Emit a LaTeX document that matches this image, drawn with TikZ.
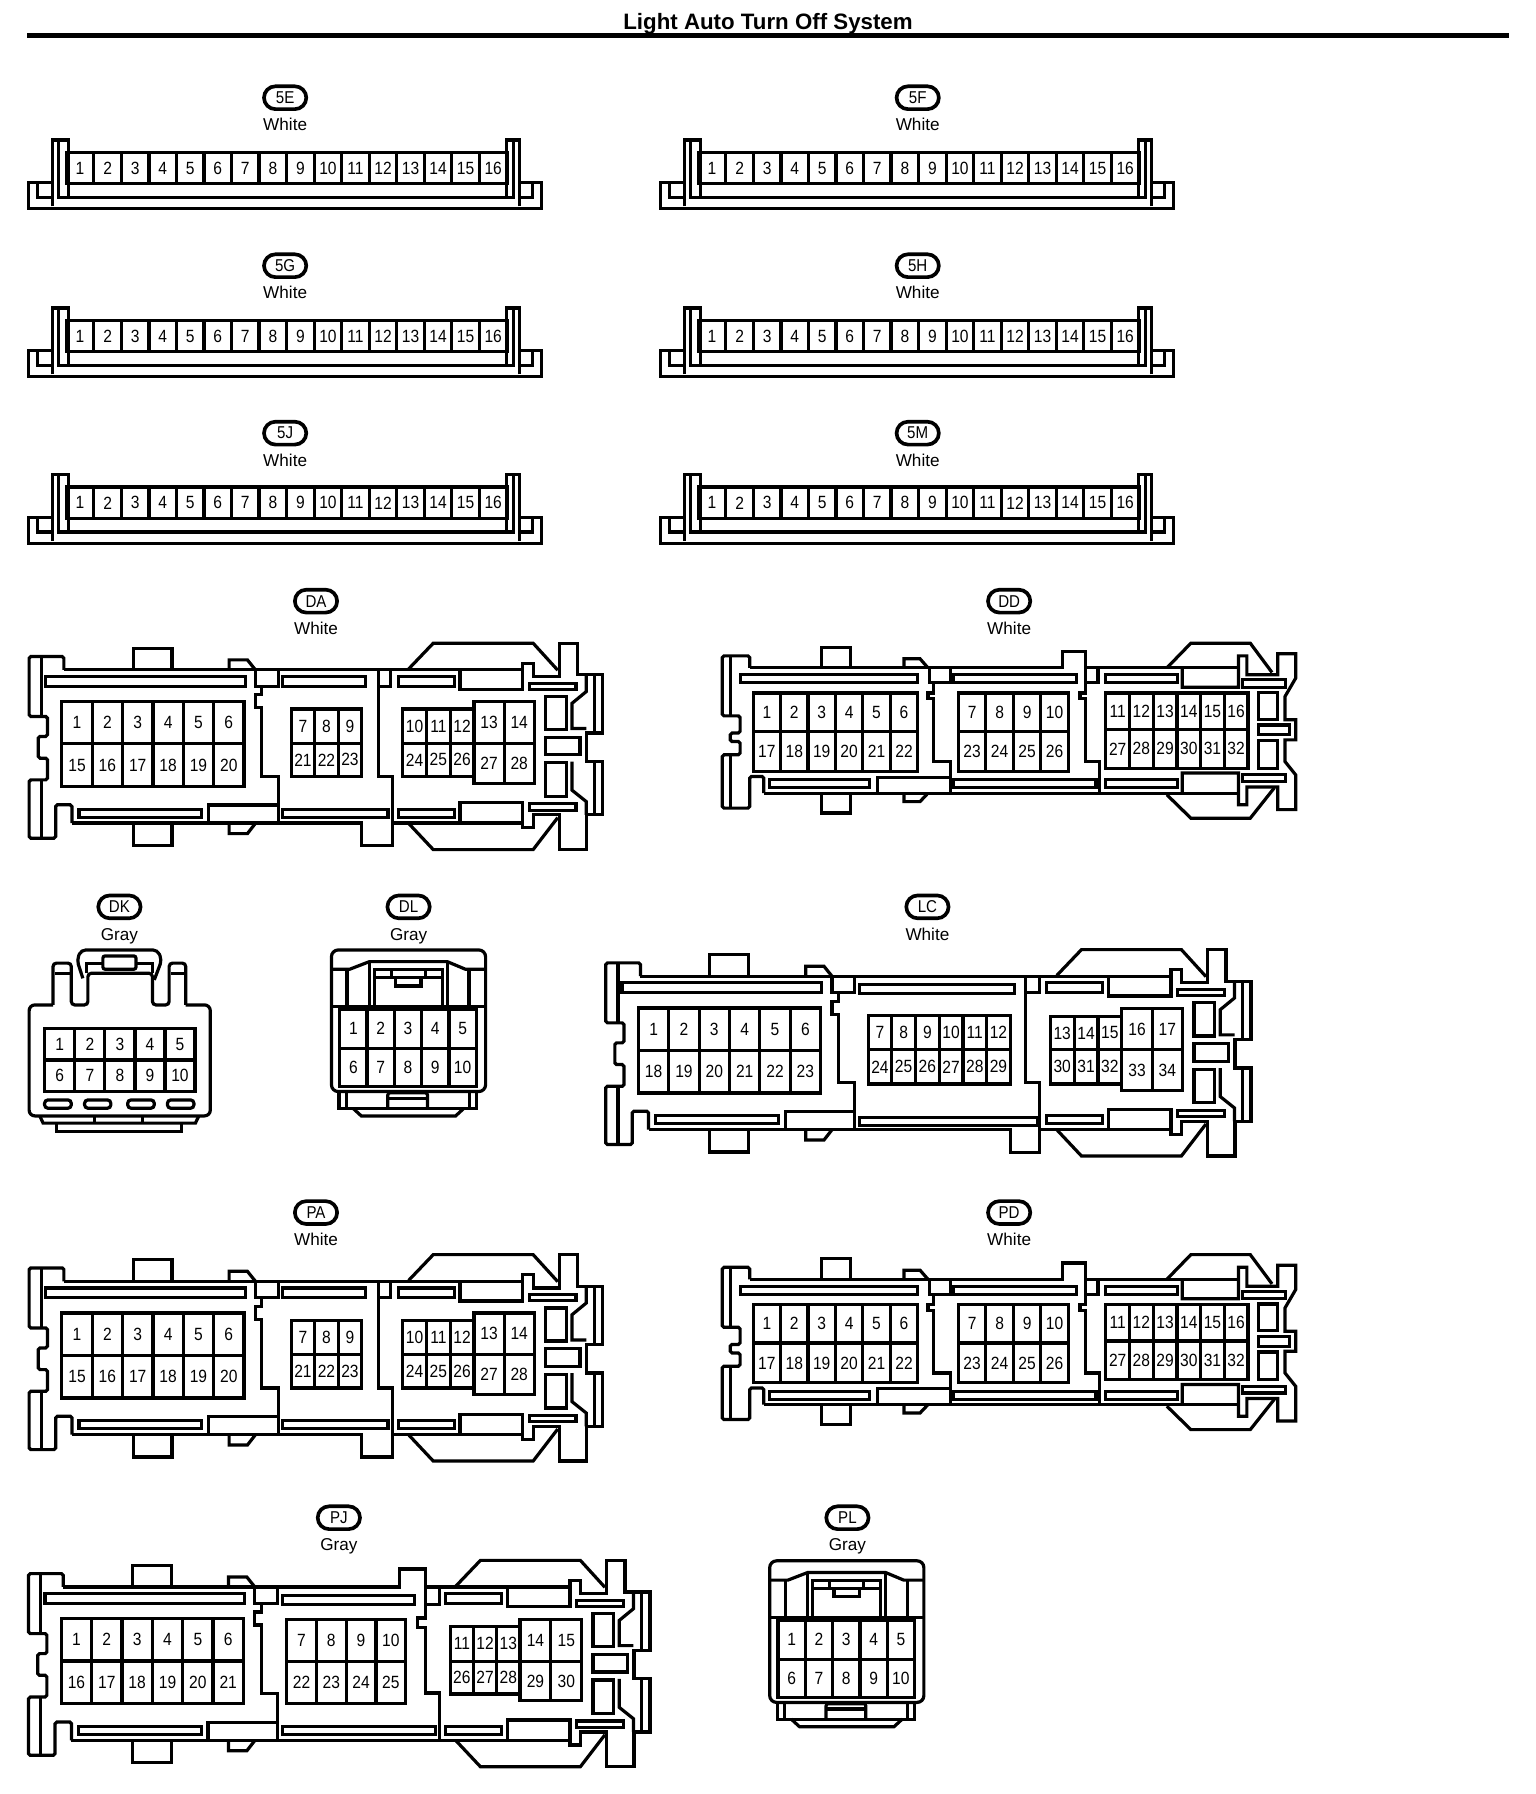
\documentclass[tikz,border=0pt]{standalone}
\usepackage{fontspec}
\setmainfont{Liberation Sans}
\newfontfamily\pinfont[FakeStretch=0.88]{Liberation Sans}
\usetikzlibrary{positioning}

\newcommand{\pinblock}[8]{%
  \draw[wire] (#1,#2) rectangle (#3,#5);
  \draw[wire] (#1,#4) -- (#3,#4);
  \foreach \col in {1,...,#8} {
    \pgfmathsetmacro\colx{#1+(#3-#1)*(\col-.5)/#8}
    \pgfmathsetmacro\divx{#1+(#3-#1)*(\col-1)/#8}
    \pgfmathtruncatemacro\toppin{#6+\col-1}
    \pgfmathtruncatemacro\botpin{#7+\col-1}
    \ifnum\col>1 \draw[wire] (\divx,#2) -- (\divx,#5); \fi
    \node[pin] (p\toppin) at (\colx,{(#2+#4)/2}) {\toppin};
    \node[pin] (p\botpin) at (\colx,{(#4+#5)/2}) {\botpin};
  }
}

\newcommand{\leftend}{%
  \draw[wire,rounded corners=1.5] (30.4,78.7) -- (30.4,67) -- (0,67) -- (0,119.5) -- (16,119.5) -- (16,137) -- (8,137) -- (8,156) -- (16,156) -- (16,175) -- (0,175) -- (0,226) -- (23.2,226) -- (23.2,196.8) -- (37.5,196.8) -- (37.5,212.8);
  \draw[wire] (10.7,67) -- (10.7,119.5) (10.7,175) -- (10.7,226);
  \draw[wire] (30.4,78.7) -- (218,78.7) (37.5,212.8) -- (218,212.8);
  \draw[wire] (91,78.7) -- (91,59.8) -- (125,59.8) -- (125,78.7);
  \draw[wire] (91,212.8) -- (91,232.4) -- (125,232.4) -- (125,212.8);
  \draw[wire] (175,78.7) -- (175,70) -- (191,70) -- (198,78.7);
  \draw[wire] (175,212.8) -- (175,222) -- (191,222) -- (198,213);
  \draw[wire] (14.3,84.5) rectangle (189,93);
  \draw[wire] (43.6,200.6) rectangle (151,207.6);
  \draw[wire] (157,212.8) -- (157,197) -- (218,197) -- (218,212.8);
  \draw[wire] (198,78.7) -- (198,93) -- (218,93) -- (218,78.7);
  \draw[wire] (203.6,93) -- (203.6,100.6) -- (198,100.6) -- (198,112) -- (203.6,112) -- (203.6,172) -- (218,172) -- (218,197);
}

\newcommand{\rightend}[1]{%
  \begin{scope}[xshift=#1pt]
    \draw[wire] (0,78.7) -- (100,78.7) (0,212.8) -- (45,212.8);
    \draw[wire] (0,78) -- (21.6,55.4) -- (109,55.4) -- (130.5,79);
    \draw[wire] (0,213) -- (21.6,236) -- (109,236) -- (130.5,208);
    \draw[wire] (-9,84.5) rectangle (40,93);
    \draw[wire] (-9,200.6) rectangle (40,207.6);
    \draw[wire] (45,78.7) -- (45,96) -- (100,96) -- (100,73) -- (109,73) -- (109,84.5) -- (132,84.5) -- (132,55.4) -- (148,55.4) -- (148,83) -- (170,83) -- (170,134) -- (156,134) -- (156,159) -- (170,159) -- (170,205.6) -- (156,205.6) -- (156,236) -- (132,236) -- (132,205.5) -- (109,205.5) -- (109,217) -- (100,217) -- (100,195) -- (45,195) -- (45,212.8) -- (100,212.8);
    \draw[wire] (162.6,83) -- (162.6,134) (162.6,159) -- (162.6,205.6);
    \draw[wire] (155.5,84) -- (155.5,97.7) -- (143,108) -- (143,130) -- (155.5,130);
    \draw[wire] (143,159) -- (143,184) -- (155.5,194) -- (155.5,205.6);
    \draw[wire] (105.5,90.4) rectangle (146.5,95.6);
    \draw[wire] (105.5,196) rectangle (146.5,201.7);
    \draw[wire] (120,102) rectangle (138,131);
    \draw[wire] (120,137.6) rectangle (150,153);
    \draw[wire] (120,160) rectangle (138,189.5);
  \end{scope}
}

\begin{document}
\begin{tikzpicture}[
    x=1pt, y=-1pt,
    wire/.style={line width=2.8pt, line join=miter},
    pin/.style={inner sep=0pt, font=\pinfont\fontsize{15.5}{16}\selectfont},
    pill/.style={draw, line width=3.2pt, rounded corners=10pt, minimum width=37pt, minimum height=20pt, inner sep=0pt, font=\pinfont\fontsize{15}{16}\selectfont},
    shade/.style={anchor=base, inner sep=0pt, font=\fontsize{15}{16}\selectfont},
    strip/.pic={
      \draw[wire] (21,37) -- (0,37) -- (0,60) -- (449,60) -- (449,37) -- (429.6,37);
      \draw[wire] (8,37) -- (8,50) -- (21,50);
      \draw[wire] (441,37) -- (441,50) -- (429.6,50);
      \draw[wire] (21,58) -- (21,0) -- (34.6,0) -- (34.6,50);
      \draw[wire] (429.6,58) -- (429.6,0) -- (418,0) -- (418,50);
      \draw[wire] (26,0) -- (26,50) -- (424.6,50) -- (424.6,0);
      \draw[wire] (33,10.7) rectangle (418.6,38.4);
      \foreach \n in {1,...,16} {
        \ifnum\n>1 \draw[wire] ({33+24.1*(\n-1)},10.7) -- ({33+24.1*(\n-1)},38.4); \fi
        \node[pin] (p\n) at ({33+24.1*(\n-.5)},24.5) {\n};
      }
    },
    bigA/.pic={
      \leftend
      \draw[wire] (218,78.7) -- (332,78.7);
      \draw[wire] (218,212.8) -- (291,212.8) -- (291,232.4) -- (318,232.4) -- (318,212.8) -- (332,212.8);
      \draw[wire] (221.4,84.5) rectangle (294.6,93);
      \draw[wire] (221.4,200.6) rectangle (314,207.6);
      \draw[wire] (305.4,78.7) -- (305.4,172) -- (318,172) -- (318,212.8);
      \draw[wire] (316,78.7) -- (316,93) -- (305.4,93);
      \rightend{332}
      \pinblock{28.6}{106.4}{188}{143.4}{180.8}{1}{15}{6}
      \pinblock{229.3}{113}{291}{143}{172}{7}{21}{3}
      \pinblock{326.8}{113}{389.3}{143}{172}{10}{24}{3}
      \pinblock{389.3}{106.4}{442}{143}{178}{13}{27}{2}
    },
    bigLC/.pic={
      \leftend
      \draw[wire] (218,78.7) -- (394.7,78.7);
      \draw[wire] (218,212.8) -- (354,212.8) -- (354,233) -- (379.5,233) -- (379.5,212.8) -- (394.7,212.8);
      \draw[wire] (222,86) rectangle (358,94);
      \draw[wire] (222,202) rectangle (377.6,209);
      \draw[wire] (367.4,78.7) -- (367.4,172) -- (379.5,172) -- (379.5,212.8);
      \draw[wire] (379.5,78.7) -- (379.5,93) -- (367.4,93);
      \rightend{394.7}
      \pinblock{28.6}{106.4}{188}{143.4}{180.8}{1}{18}{6}
      \pinblock{229.6}{113}{354}{143}{172.9}{7}{24}{6}
      \pinblock{389}{113.7}{451.6}{143}{172.9}{13}{30}{3}
      \pinblock{451.6}{107}{504.7}{143}{178.7}{16}{33}{2}
    },
    bigJ/.pic={
      \leftend
      \draw[wire] (218,78.7) -- (324.5,78.7) -- (324.5,63) -- (347,63) -- (347,105.9) -- (340,105.9) -- (340,113.8) -- (347,113.8) -- (347,171.5) -- (359.4,171.5) -- (359.4,212.8);
      \draw[wire] (347,78.7) -- (373.8,78.7) (218,212.8) -- (373.8,212.8);
      \draw[wire] (222,86.4) rectangle (337.8,94);
      \draw[wire] (222,201) rectangle (356,208);
      \draw[wire] (359.4,78.7) -- (359.4,94) -- (347,94);
      \rightend{373.8}
      \pinblock{28.6}{106.4}{188}{143.4}{180.8}{1}{16}{6}
      \pinblock{225.8}{106.8}{330}{143.8}{180.8}{7}{22}{4}
      \pinblock{369}{113}{430}{143.8}{172.4}{11}{26}{3}
      \pinblock{430}{106.8}{484}{143.8}{178}{14}{29}{2}
    },
    bigD/.pic={
      \draw[wire,rounded corners=1.5] (24,77) -- (24,66.5) -- (0,66.5) -- (0,119) -- (15.6,119) -- (15.6,134) -- (7,134) -- (7,141.4) -- (15.6,141.4) -- (15.6,153) -- (0,153) -- (0,199.7) -- (24,199.7) -- (24,172) -- (36.3,172) -- (36.3,186.6);
      \draw[wire] (7,66.5) -- (7,119) (7,153) -- (7,199.7);
      \draw[wire] (24,77) -- (297.6,77) -- (297.6,62.7) -- (318,62.7) -- (318,99) -- (313,99) -- (313,104) -- (318,104) -- (318,159) -- (330.4,159) -- (330.4,186.6);
      \draw[wire] (318,77) -- (451.6,77);
      \draw[wire] (36.3,186.6) -- (451.6,186.6);
      \draw[wire] (86.5,77) -- (86.5,59) -- (112.5,59) -- (112.5,77);
      \draw[wire] (86.5,186.6) -- (86.5,204) -- (112.5,204) -- (112.5,186.6);
      \draw[wire] (159,77) -- (159,69) -- (173,69) -- (180,77);
      \draw[wire] (159,186.6) -- (159,194) -- (173,194) -- (180,186.6);
      \draw[wire] (15.6,83) rectangle (171,90);
      \draw[wire] (41.5,175) rectangle (129,182);
      \draw[wire] (136,186.6) -- (136,172.6) -- (199.6,172.6) -- (199.6,186.6);
      \draw[wire] (181,77) -- (181,90) -- (199.6,90) -- (199.6,77);
      \draw[wire] (185,90) -- (185,99) -- (180,99) -- (180,104) -- (185,104) -- (185,159) -- (199.6,159) -- (199.6,172.6);
      \draw[wire] (202.4,83) rectangle (309.7,90);
      \draw[wire] (202.4,175) rectangle (327,182);
      \draw[wire] (328.7,77) -- (328.7,90) -- (318,90);
      \draw[wire] (335.6,83) rectangle (398,90);
      \draw[wire] (335.6,175) rectangle (398,182);
      \draw[wire] (402.4,77) -- (402.4,94) -- (451.6,94) -- (451.6,66.5) -- (459,66.5) -- (459,83) -- (486,83) -- (486,64.7) -- (501.7,64.7) -- (501.7,86) -- (492.4,102) -- (492.4,122.4) -- (501.7,122.4) -- (501.7,140) -- (492.4,140) -- (492.4,159) -- (501.7,170.6) -- (501.7,201) -- (486,201) -- (486,181.3) -- (459,181.3) -- (459,196.8) -- (451.6,196.8) -- (451.6,169) -- (402.4,169) -- (402.4,186.6);
      \draw[wire] (389,77) -- (410,55.4) -- (462,55.4) -- (481,81);
      \draw[wire] (389,188) -- (410,208.5) -- (462,208.5) -- (483,182);
      \draw[wire] (455,87.5) rectangle (493,94);
      \draw[wire] (455,170.6) rectangle (493,176.4);
      \draw[wire] (469,98.5) rectangle (485.5,122);
      \draw[wire] (469,127) rectangle (496.5,135.6);
      \draw[wire] (469,140.5) rectangle (485.5,164.7);
      \pinblock{27}{99}{171}{132.7}{167.6}{1}{17}{6}
      \pinblock{206.6}{99}{302.8}{132.7}{167.6}{7}{23}{4}
      \pinblock{335.6}{99}{460}{131}{164.7}{11}{27}{6}
    },
    plugK/.pic={
      \draw[wire,rounded corners=5] (46.4,100.6) -- (25.5,100.6) -- (25.5,197.7) -- (184,197.7) -- (184,100.6) -- (162.5,100.6);
      \draw[wire,rounded corners=3] (46.4,100.6) -- (46.4,64) -- (62.4,64) -- (62.4,100.6) -- (76.9,100.6) -- (76.9,72.9) -- (133.4,72.9) -- (133.4,100.6) -- (148,100.6) -- (148,64) -- (162.5,64) -- (162.5,100.6);
      \draw[wire] (48,72.9) -- (61,72.9) (149.5,72.9) -- (161,72.9);
      \draw[wire,rounded corners=4] (72.5,77.3) -- (67.3,61.2) -- (71,52.5) -- (137.8,52.5) -- (141.6,61.2) -- (135,78.7);
      \draw[wire] (76,72.9) -- (76,64.1) -- (90,64.1) (119,64.1) -- (133.4,64.1) -- (133.4,72.9);
      \draw[wire,rounded corners=2] (90,57.7) rectangle (119,69.4);
      \pinblock{39.2}{121}{170.6}{148.7}{176.4}{1}{6}{5}
      \draw[wire,rounded corners=3] (39,183.7) rectangle (62.4,191);
      \draw[wire,rounded corners=3] (74,183.7) rectangle (97,191);
      \draw[wire,rounded corners=3] (111.7,183.7) rectangle (135,191);
      \draw[wire,rounded corners=3] (146.5,183.7) rectangle (169.7,191);
      \draw[wire] (34.8,197.7) -- (37.7,204) -- (171,204) -- (174,197.7);
      \draw[wire] (82.7,197.7) -- (82.7,204) (124.7,197.7) -- (124.7,204);
      \draw[wire] (49.3,204) -- (49.3,211.4) -- (159,211.4) -- (159,204);
    },
    plugL/.pic={
      \draw[wire,rounded corners=6] (0,176.4) -- (0,52.5) -- (134.9,52.5) -- (134.9,176.4) -- cycle;
      \draw[wire] (0,69.4) -- (15.9,69.4) -- (33.3,62.7) -- (101.3,62.7) -- (117.3,69.4) -- (134.9,69.4);
      \draw[wire] (13.6,69.4) -- (13.6,102) (33.3,62.7) -- (33.3,102) (101.3,62.7) -- (101.3,102) (120.3,69.4) -- (120.3,102);
      \draw[wire] (0,102) -- (134.9,102);
      \draw[wire] (37.7,102) -- (37.7,69.4) -- (97.1,69.4) -- (97.1,102);
      \draw[wire] (37.7,76.4) -- (97.1,76.4);
      \draw[wire] (56.3,76.4) -- (56.3,84) -- (78.3,84) -- (78.3,76.4);
      \draw[wire] (52.3,69.4) -- (52.3,76.4) (82.3,69.4) -- (82.3,76.4);
      \pinblock{7.3}{104.4}{126.7}{138.5}{172}{1}{6}{5}
      \draw[wire] (6.6,176.4) -- (6.6,191) -- (126.7,191) -- (126.7,176.4);
      \draw[wire] (13,176.4) -- (13,191) (120.9,176.4) -- (120.9,191);
      \draw[wire,rounded corners=2] (49.3,191) -- (49.3,177.5) -- (84.1,177.5) -- (84.1,191);
      \draw[wire] (49.3,182.2) -- (84.1,182.2);
      \draw[wire] (18.8,191) -- (26.1,197.7) -- (108.7,197.7) -- (116,191);
    }
]
\useasboundingbox (0,0) rectangle (1344,1569.75);

\node[inner sep=0pt, font=\bfseries\fontsize{19.5}{20}\selectfont] (title) at (672,21) {Light Auto Turn Off System};
\draw[line width=5pt] (24,31) -- (1320,31);

\foreach \tag/\px/\py/\word in {5E/249.5/85.5/White, 5F/803/85.5/White, 5G/249.5/232.5/White, 5H/803/232.5/White, 5J/249.5/379/White, 5M/803/379/White,
    DA/276.5/526/White, DD/883/526/White, DK/104.5/793.5/Gray, DL/357.5/793.5/Gray, LC/811.5/793.5/White,
    PA/276.5/1061/White, PD/883/1061/White, PJ/296.5/1328/Gray, PL/741.5/1328/Gray} {
  \node[pill] (tag\tag) at (\px,\py) {\tag};
  \node[shade] (col\tag) at (\px,\py+29) {\word};
}

\pic (se) at (25,122.5) {strip};
\pic (sf) at (578,122.5) {strip};
\pic (sg) at (25,269.5) {strip};
\pic (sh) at (578,269.5) {strip};
\pic (sj) at (25,415.5) {strip};
\pic (sm) at (578,415.5) {strip};

\pic (da) at (25.5,507.4) {bigA};
\pic (dd) at (632,507.4) {bigD};
\pic (dk) at (0,778.7) {plugK};
\pic (dl) at (290,778.7) {plugL};
\pic (lc) at (530,775.5) {bigLC};
\pic (pa) at (25.5,1042.4) {bigA};
\pic (pd) at (632,1042.4) {bigD};
\pic (pj) at (25,1309.9) {bigJ};
\pic (pl) at (673.5,1313.2) {plugL};
\end{tikzpicture}
\end{document}
